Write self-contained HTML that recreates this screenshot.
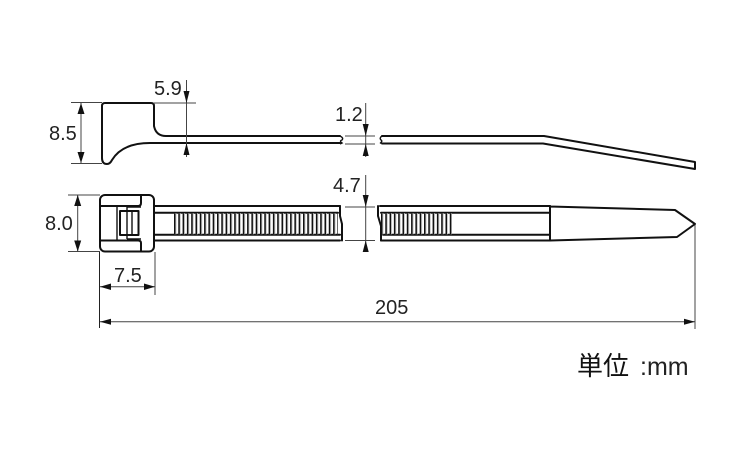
<!DOCTYPE html>
<html>
<head>
<meta charset="utf-8">
<style>
html,body{margin:0;padding:0;background:#fff;}
svg{display:block;}
text{font-family:"Liberation Sans","Noto Sans CJK JP",sans-serif;fill:#222;}
.o{fill:none;stroke:#111;stroke-width:2;stroke-linejoin:round;stroke-linecap:round;}
.t{fill:none;stroke:#111;stroke-width:1.4;}
.d{fill:none;stroke:#444;stroke-width:1;}
.a{fill:#111;stroke:none;}
</style>
</head>
<body>
<svg width="750" height="450" viewBox="0 0 750 450" xmlns="http://www.w3.org/2000/svg">
<rect width="750" height="450" fill="#fff"/>

<!-- Side view head + strap -->
<path class="o" d="M340 136 H166 Q156 136 154 126 V106 Q154 103 151 103 H105 Q102 103 102 106 V158 Q102 164 107 164 Q110 164 112 160 C120 147 135 143 150 143 H340"/>
<path class="t" d="M340 136 Q344 138 342 140 Q339 141 342 143 L340 144"/>
<path class="o" d="M382 136 H544 L695 162 V169 L543 143.500 H382"/>
<path class="t" d="M382 136 Q379 138 381 140 Q383 141 380 143.500"/>

<!-- Plan view head -->
<rect class="o" x="100" y="195" width="54" height="56.500" rx="5"/>
<path class="o" d="M100 206 H138 Q141 206 141 203 V195"/>
<path class="o" d="M100 240.500 H138 Q141 240.500 141 243 V251"/>
<path class="t" d="M117 206 V240.500"/>
<path class="o" d="M120 211 H138.500 V235 H120 Z" stroke-width="2.400"/>
<path class="t" d="M127 207 H141 M127 239 H141 M127 207 V211 M127 235 V239"/>
<path class="t" d="M127 212 V234 M132 212 V234"/>

<!-- Plan view strap left -->
<path class="o" d="M154 206 H340 M154 240.500 H340"/>
<path class="o" d="M154 212.700 H338 M154 234.800 H340" stroke-width="1.600"/>
<path d="M174 223.700 H338" fill="none" stroke="#ccc" stroke-width="21" stroke-dasharray="2.500 1.800"/>
<path d="M174 223.700 H338" fill="none" stroke="#111" stroke-width="21" stroke-dasharray="1.500 2.800"/>
<path class="o" d="M340 206 V216 L342 224 V240.500" stroke-width="1.600"/>

<!-- Plan view strap right -->
<path class="o" d="M380 206 H550 M381 240.500 H550"/>
<path class="o" d="M381 212.700 H550 M383 234.800 H550" stroke-width="1.600"/>
<path d="M381 223.700 H452" fill="none" stroke="#ccc" stroke-width="21" stroke-dasharray="2.500 1.800"/>
<path d="M381 223.700 H452" fill="none" stroke="#111" stroke-width="21" stroke-dasharray="1.500 2.800"/>
<path class="o" d="M378 206 V216 L381 226 V240.500" stroke-width="1.600"/>
<path class="o" d="M550 206 V240.500 L677 237 L695 224 L675 210 L550 206.500"/>

<!-- 8.5 -->
<path class="d" d="M71 102.500 H102 M71 163.500 H102 M81 103 V163"/>
<path class="a" d="M81 103 L77.500 114 H84.500 Z M81 163 L77.500 152 H84.500 Z"/>
<text x="49" y="140" font-size="20">8.5</text>

<!-- 5.9 -->
<path class="d" d="M153 103 H196 M186.500 80 V157"/>
<path class="a" d="M186.500 103 L183.500 91 H189.500 Z M186.500 143 L183.500 155 H189.500 Z"/>
<text x="154" y="95" font-size="20">5.9</text>

<!-- 1.2 -->
<path class="d" d="M345 136 H375 M345 144 H375 M365.700 103 V157"/>
<path class="a" d="M365.700 136 L362.700 124 H368.700 Z M365.700 144 L362.700 156 H368.700 Z"/>
<text x="335" y="121" font-size="20">1.2</text>

<!-- 4.7 -->
<path class="d" d="M345 207 H375 M345 240.500 H375 M365.700 175 V252"/>
<path class="a" d="M365.700 207 L362.700 195 H368.700 Z M365.700 240.500 L362.700 252 H368.700 Z"/>
<text x="333" y="192" font-size="20">4.7</text>

<!-- 8.0 -->
<path class="d" d="M68 195 H100 M68 251.500 H100 M77.700 195 V251.500"/>
<path class="a" d="M77.700 195 L74.200 206 H81.200 Z M77.700 251.500 L74.200 240.500 H81.200 Z"/>
<text x="45" y="230" font-size="20">8.0</text>

<!-- 7.5 -->
<path class="d" d="M155 252 V295 M100 286.700 H155"/>
<path class="a" d="M100 286.700 L111 283.500 V290 Z M155 286.700 L144 283.500 V290 Z"/>
<text x="114" y="282" font-size="20">7.5</text>

<!-- 205 -->
<path d="M99.500 252 V328" fill="none" stroke="#222" stroke-width="1"/>
<path class="d" d="M695 225 V329 M100 321.700 H695"/>
<path class="a" d="M100 321.700 L111 318.700 V324.700 Z M695 321.700 L684 318.700 V324.700 Z"/>
<text x="375" y="314" font-size="20">205</text>

<!-- Unit -->
<text x="577" y="375" font-size="26" style="fill:#111">単位</text>
<text x="640" y="375" font-size="25">:mm</text>
</svg>
</body>
</html>
